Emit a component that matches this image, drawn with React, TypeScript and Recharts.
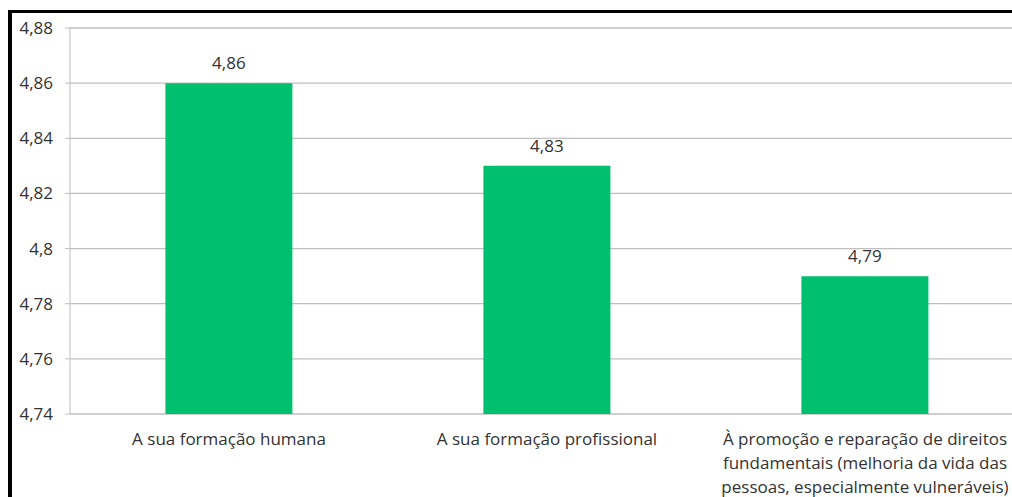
import { BarChart, Bar, XAxis, YAxis, CartesianGrid, LabelList } from "recharts";

const categories = [
  "A sua formação humana",
  "A sua formação profissional",
  "À promoção e reparação de direitos\nfundamentais (melhoria da vida das\npessoas, especialmente vulneráveis)",
];
const scores = [4.86, 4.83, 4.79];
const yTicks = [4.74, 4.76, 4.78, 4.8, 4.82, 4.84, 4.86, 4.88];
const boundaryTicks = [0, 1, 2, 3];

const data = categories.map((name, i) => ({ name, score: scores[i] }));

const fmt = (v: number) => String(+v.toFixed(2)).replace(".", ",");

const FONT = "'Open Sans', sans-serif";
const TEXT = "#333333";
const GRID = "#bfbfbf";
const SIZE = 17;

function CategoryTick(props: any) {
  const { x, y, payload } = props;
  const lines = String(payload.value).split("\n");
  return (
    <text x={x} y={y} textAnchor="middle" fill={TEXT} fontFamily={FONT} fontSize={SIZE}>
      {lines.map((l, i) => (
        <tspan key={i} x={x} dy={i === 0 ? 22.5 : 24}>
          {l}
        </tspan>
      ))}
    </text>
  );
}

export default function App() {
  return (
    <div
      style={{
        position: "absolute",
        left: 8,
        top: 10,
        width: 1004,
        height: 487,
        overflow: "hidden",
        background: "#fff",
      }}
    >
      <BarChart
        width={1040}
        height={487}
        data={data}
        margin={{ top: 18, right: 24, left: 0, bottom: 0 }}
        barCategoryGap="30%"
      >
        <CartesianGrid vertical={false} stroke={GRID} strokeWidth={1.3} />
        <XAxis
          xAxisId="bounds"
          type="number"
          domain={[0, 3]}
          ticks={boundaryTicks}
          tick={false}
          tickSize={7}
          height={0}
          stroke={GRID}
          tickLine={{ stroke: GRID }}
          axisLine={{ stroke: GRID, strokeWidth: 1.3 }}
        />
        <XAxis
          xAxisId="cat"
          dataKey="name"
          height={83}
          axisLine={false}
          tickLine={false}
          interval={0}
          tick={<CategoryTick />}
        />
        <YAxis
          width={62}
          domain={[4.74, 4.88]}
          ticks={yTicks}
          tickFormatter={fmt}
          tickSize={5}
          tickMargin={12}
          stroke={GRID}
          axisLine={{ stroke: GRID }}
          tickLine={{ stroke: GRID }}
          tick={{ fill: TEXT, fontFamily: FONT, fontSize: SIZE }}
          interval={0}
        />
        <Bar xAxisId="cat" dataKey="score" fill="#00BF6F" isAnimationActive={false}>
          <LabelList
            dataKey="score"
            position="top"
            offset={14}
            formatter={(v: any) => fmt(Number(v))}
            fill={TEXT}
            fontFamily={FONT}
            fontSize={SIZE}
          />
        </Bar>
      </BarChart>
      <div style={{ position: "absolute", left: 0, top: 0, width: "100%", height: 3, background: "#000" }} />
      <div style={{ position: "absolute", left: 0, top: 0, width: 4, height: "100%", background: "#000" }} />
    </div>
  );
}
